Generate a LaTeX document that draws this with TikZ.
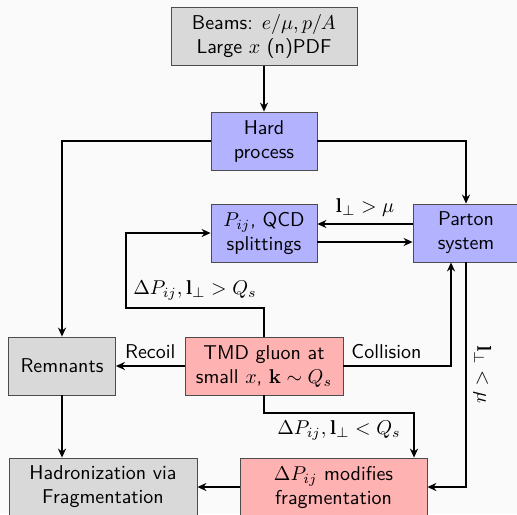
\documentclass[tikz,border=0pt]{standalone}
\usepackage{amsmath}
\renewcommand{\familydefault}{\sfdefault}
\usetikzlibrary{positioning, arrows.meta}
\tikzset{
  box/.style={draw=black!70, align=center, minimum height=29pt, inner sep=2pt},
  greybox/.style={box, fill=black!15},
  bluebox/.style={box, fill=blue!30},
  redbox/.style={box, fill=red!30},
  flow/.style={-{Stealth[length=4.5pt, width=4pt]}, line width=0.7pt}
}

\begin{document}
\begin{tikzpicture}[x=0.5pt, y=-0.5pt]
  % page, in pixel units
  \fill[black!2] (0,0) rectangle (517,514);
  \useasboundingbox (0,0) rectangle (517,514);
  \coordinate (C1) at (126,308);
  \coordinate (C2) at (414,413);
  \node[greybox, minimum width=93pt] (Beams) at (264,36.5) {Beams: $e/\mu, p/A$\\Large $x$ (n)PDF};
  \node[bluebox, minimum width=53pt] (Hard) at (264,141) {Hard\\process};
  \node[bluebox, minimum width=53pt] (Split) at (264,233) {$P_{ij}$, QCD\\splittings};
  \node[bluebox, minimum width=53pt] (Parton) at (466,233) {Parton\\system};
  \node[greybox, minimum width=53.5pt] (Remn) at (62,366) {Remnants};
  \node[redbox, minimum width=79pt] (TMD) at (264,366) {TMD gluon at\\small $x$, $\mathbf{k}\sim Q_s$};
  \node[redbox, minimum width=93.5pt] (Mod) at (333.5,487) {$\Delta P_{ij}$ modifies\\fragmentation};
  \node[greybox, minimum width=94pt] (Hadr) at (103,487) {Hadronization via\\Fragmentation};
  \draw[flow] (Beams) -- (Hard);
  \draw[flow] (Hard.west) -| (Remn.north);
  \draw[flow] (Hard.east) -| (Parton.north);
  \draw[flow] ([yshift=4.5pt]Parton.west) -- node[above] (Lmu) {$\mathbf{l}_\perp > \mu$} ([yshift=4.5pt]Split.east);
  \draw[flow] ([yshift=-4.5pt]Split.east) -- ([yshift=-4.5pt]Parton.west);
  \draw[flow] (TMD.north) |- node[pos=0.75, above] (Lhigh) {$\Delta P_{ij}, \mathbf{l}_\perp > Q_s$} (C1) |- (Split.west);
  \draw[flow] (TMD.west) -- node[above] (Lrec) {Recoil} (Remn.east);
  \draw[flow] (TMD.east) -| node[pos=0.2, above] (Lcol) {Collision} ([xshift=-7.5pt]Parton.south);
  \draw[flow] (TMD.south) |- node[pos=0.75, below] (Llow) {$\Delta P_{ij}, \mathbf{l}_\perp < Q_s$} (C2) -- (C2 |- Mod.north);
  \draw[flow] (Parton.south) |- node[pos=0.25, anchor=south, rotate=-90] (Lsoft) {$\mathbf{l}_\perp < \mu$} (Mod.east);
  \draw[flow] (Remn.south) -- (Remn.south |- Hadr.north);
  \draw[flow] (Mod.west) -- (Hadr.east);
\end{tikzpicture}
\end{document}
